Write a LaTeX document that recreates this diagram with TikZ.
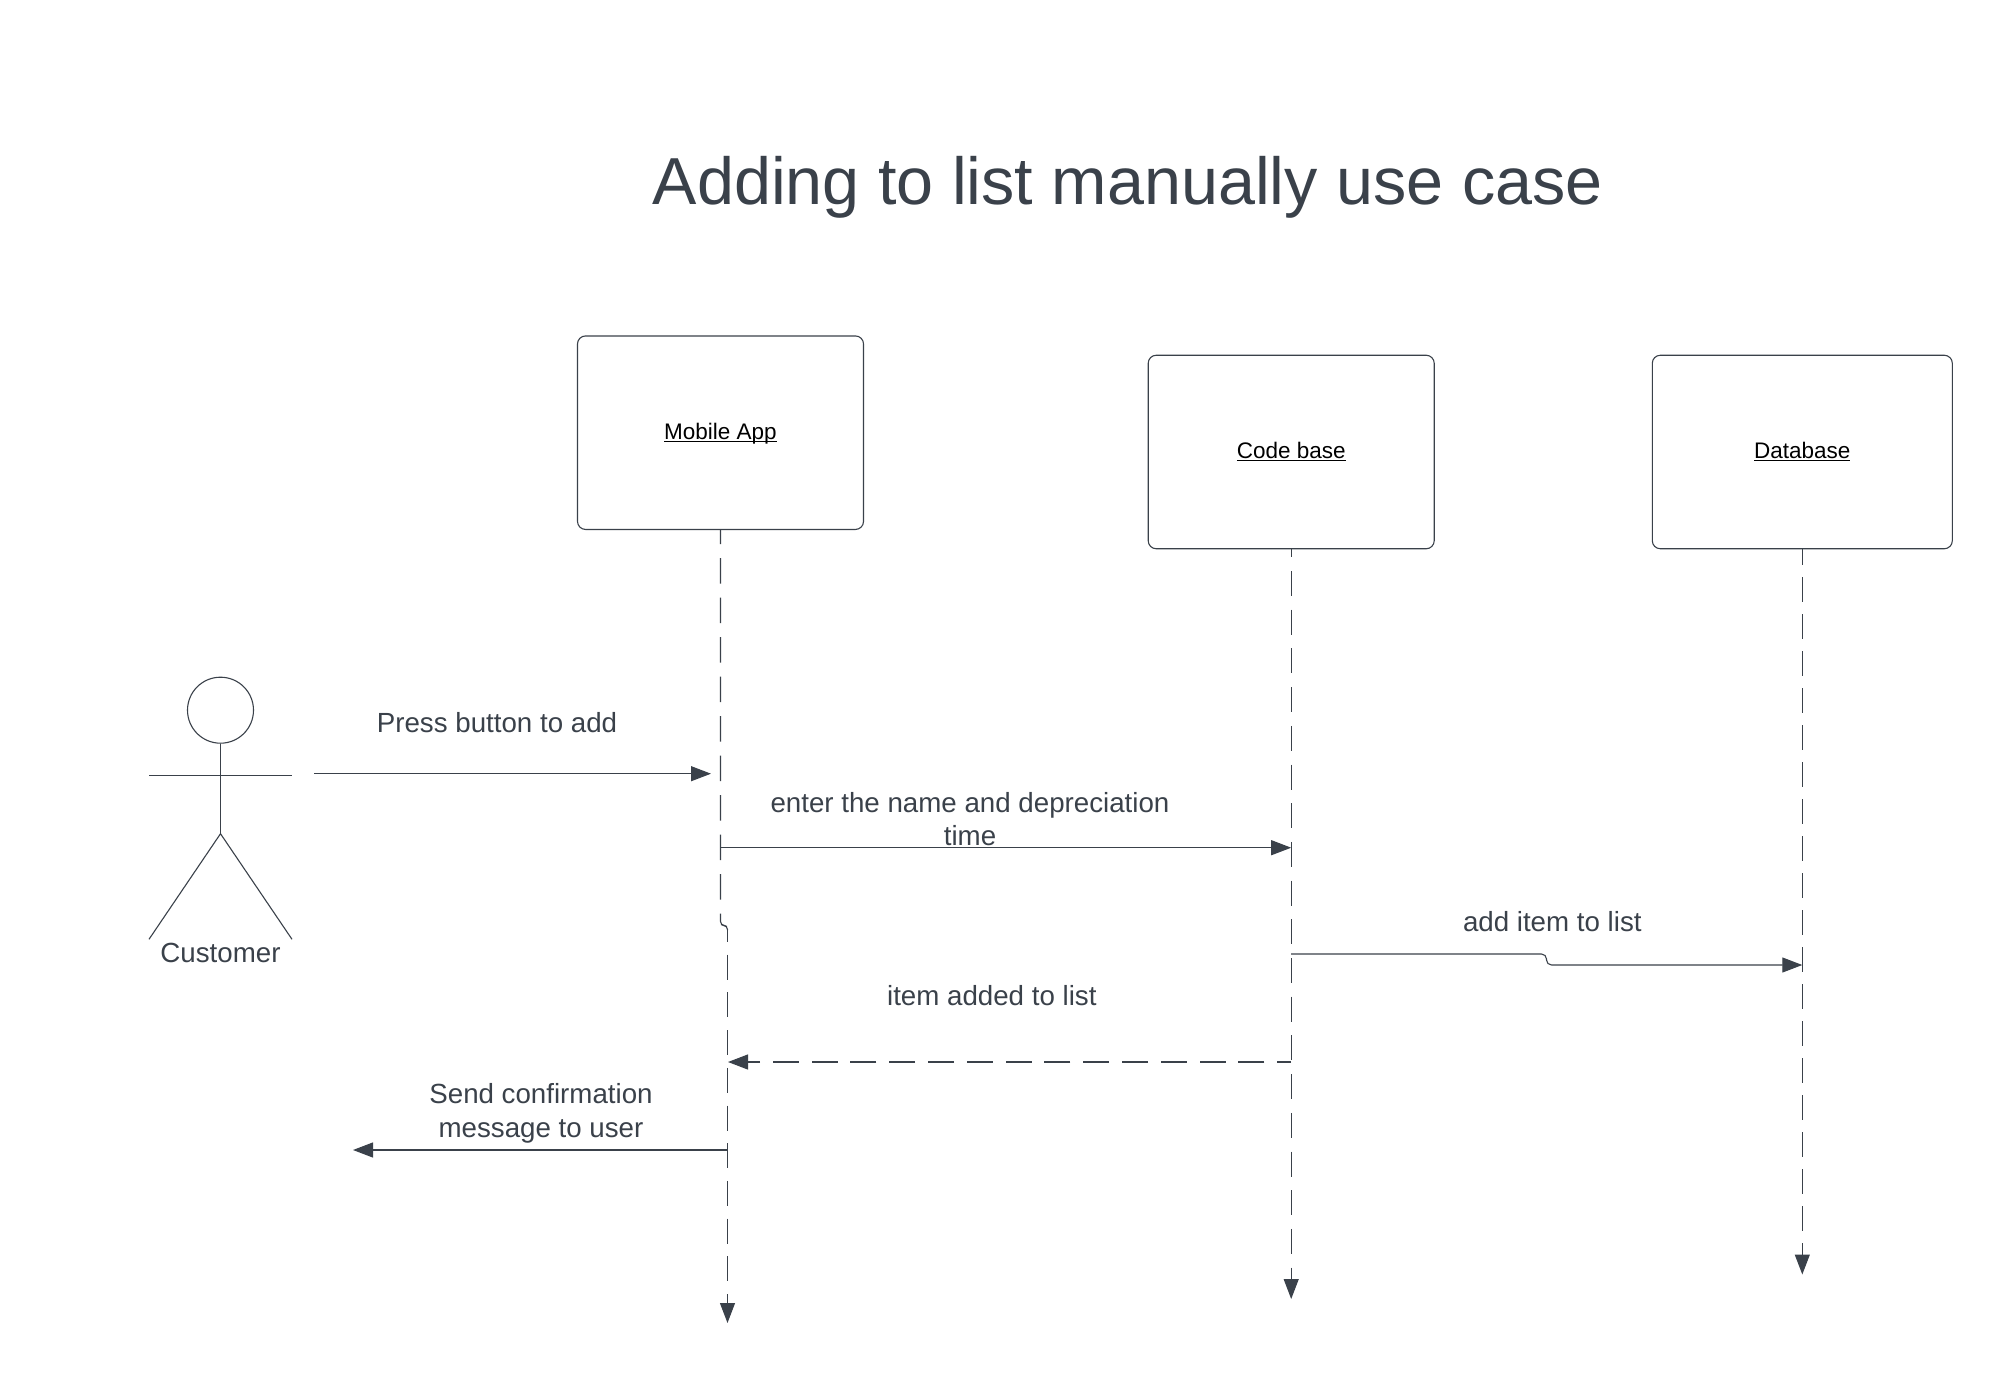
\documentclass[tikz,border=0pt]{standalone}
\usepackage{fontspec}
\setmainfont{Liberation Sans}
\usetikzlibrary{arrows.meta}
\definecolor{ink}{HTML}{3A414A}
\tikzset{
  line/.style={draw=ink,line width=1.1pt},
  msg/.style={line,-{Triangle[length=20pt,width=15pt,fill=ink]}},
  objbox/.style={line,rounded corners=8pt,minimum width=#1,minimum height=193.5pt,inner sep=0pt,
    font=\fontsize{22.5}{26}\selectfont,text=black},
  lab/.style={text=ink,inner sep=0pt,align=center,font=\fontsize{27.7}{33.5}\selectfont},
  blab/.style={lab,anchor=base},
  head/.style={line,circle,minimum size=66pt,inner sep=0pt},
}
\newcommand{\ul}[1]{\underline{\smash{#1}}\vphantom{A}}
\begin{document}
\begin{tikzpicture}[x=1pt,y=-1pt]
\useasboundingbox (0,0) rectangle (2003,1375);
\node[text=ink,inner sep=0pt,anchor=base,font=\fontsize{66.5}{74}\selectfont] (title) at (1127.8,205) {Adding to list manually use case};
% objects
\node[objbox=286pt] (mobile) at (720.5,432.7) {\ul{Mobile App}};
\node[objbox=286pt] (code) at (1291.2,452) {\ul{Code base}};
\node[objbox=300pt] (database) at (1802.3,452) {\ul{Database}};
% actor
\node[head] (actor) at (220.5,710.2) {};
\coordinate (armL) at (149,775.7);
\coordinate (armR) at (292,775.7);
\coordinate (hip) at (220.5,833.7);
\coordinate (legL) at (149,939.3);
\coordinate (legR) at (292,939.3);
\draw[line] (actor.south) -- (hip);
\draw[line] (armL) -- (armR);
\draw[line] (legL) -- (hip) -- (legR);
\node[blab] (customer) at (220.5,962) {Customer};
% lifelines
\coordinate (mobileBendA) at (720.5,925.5);
\coordinate (mobileBendB) at (727.5,925.5);
\coordinate (mobileBendC) at (727.5,930);
\coordinate (mobileEnd) at (727.5,1323);
\coordinate (codeEnd) at (1291.2,1299);
\coordinate (dbEnd) at (1802.3,1274.5);
\draw[line,dash pattern=on 25.5pt off 14pt,dash phase=11.5,rounded corners=4pt] (mobile.south) -- (mobileBendA) -- (mobileBendB) -- (mobileBendC);
\draw[msg,dash pattern=on 25pt off 12.7pt,dash phase=13] (mobileBendC) -- (mobileEnd);
\draw[msg,dash pattern=on 25pt off 13.7pt,dash phase=17] (code.south) -- (codeEnd);
\draw[msg,dash pattern=on 25pt off 12pt,dash phase=9] (database.south) -- (dbEnd);
% messages
\coordinate (pressA) at (314,773.7);
\coordinate (pressB) at (711,773.7);
\draw[msg] (pressA) -- (pressB);
\node[blab] (press) at (497,732.5) {Press button to add};
\coordinate (enterA) at (720.5,847.7);
\coordinate (enterB) at (1291.2,847.7);
\draw[msg] (enterA) -- (enterB);
\node[lab] (enter) at (970,819) {enter the name and depreciation\\time};
\coordinate (addA) at (1291.2,954);
\coordinate (addM) at (1546.5,954);
\coordinate (addN) at (1546.5,965);
\coordinate (addB) at (1802.3,965);
\draw[msg,rounded corners=5pt] (addA) -- (addM) -- (addN) -- (addB);
\node[blab] (add) at (1552.3,931.5) {add item to list};
\coordinate (backA) at (1291.2,1062);
\coordinate (backB) at (728,1062);
\draw[msg,dash pattern=on 26pt off 12.8pt,dash phase=12] (backA) -- (backB);
\node[blab] (back) at (991.8,1005) {item added to list};
\coordinate (sendA) at (727.5,1150);
\coordinate (sendB) at (353,1150);
\draw[msg] (sendA) -- (sendB);
\node[lab] (send) at (541,1113.5) {Send confirmation\\message to user};
\end{tikzpicture}
\end{document}
